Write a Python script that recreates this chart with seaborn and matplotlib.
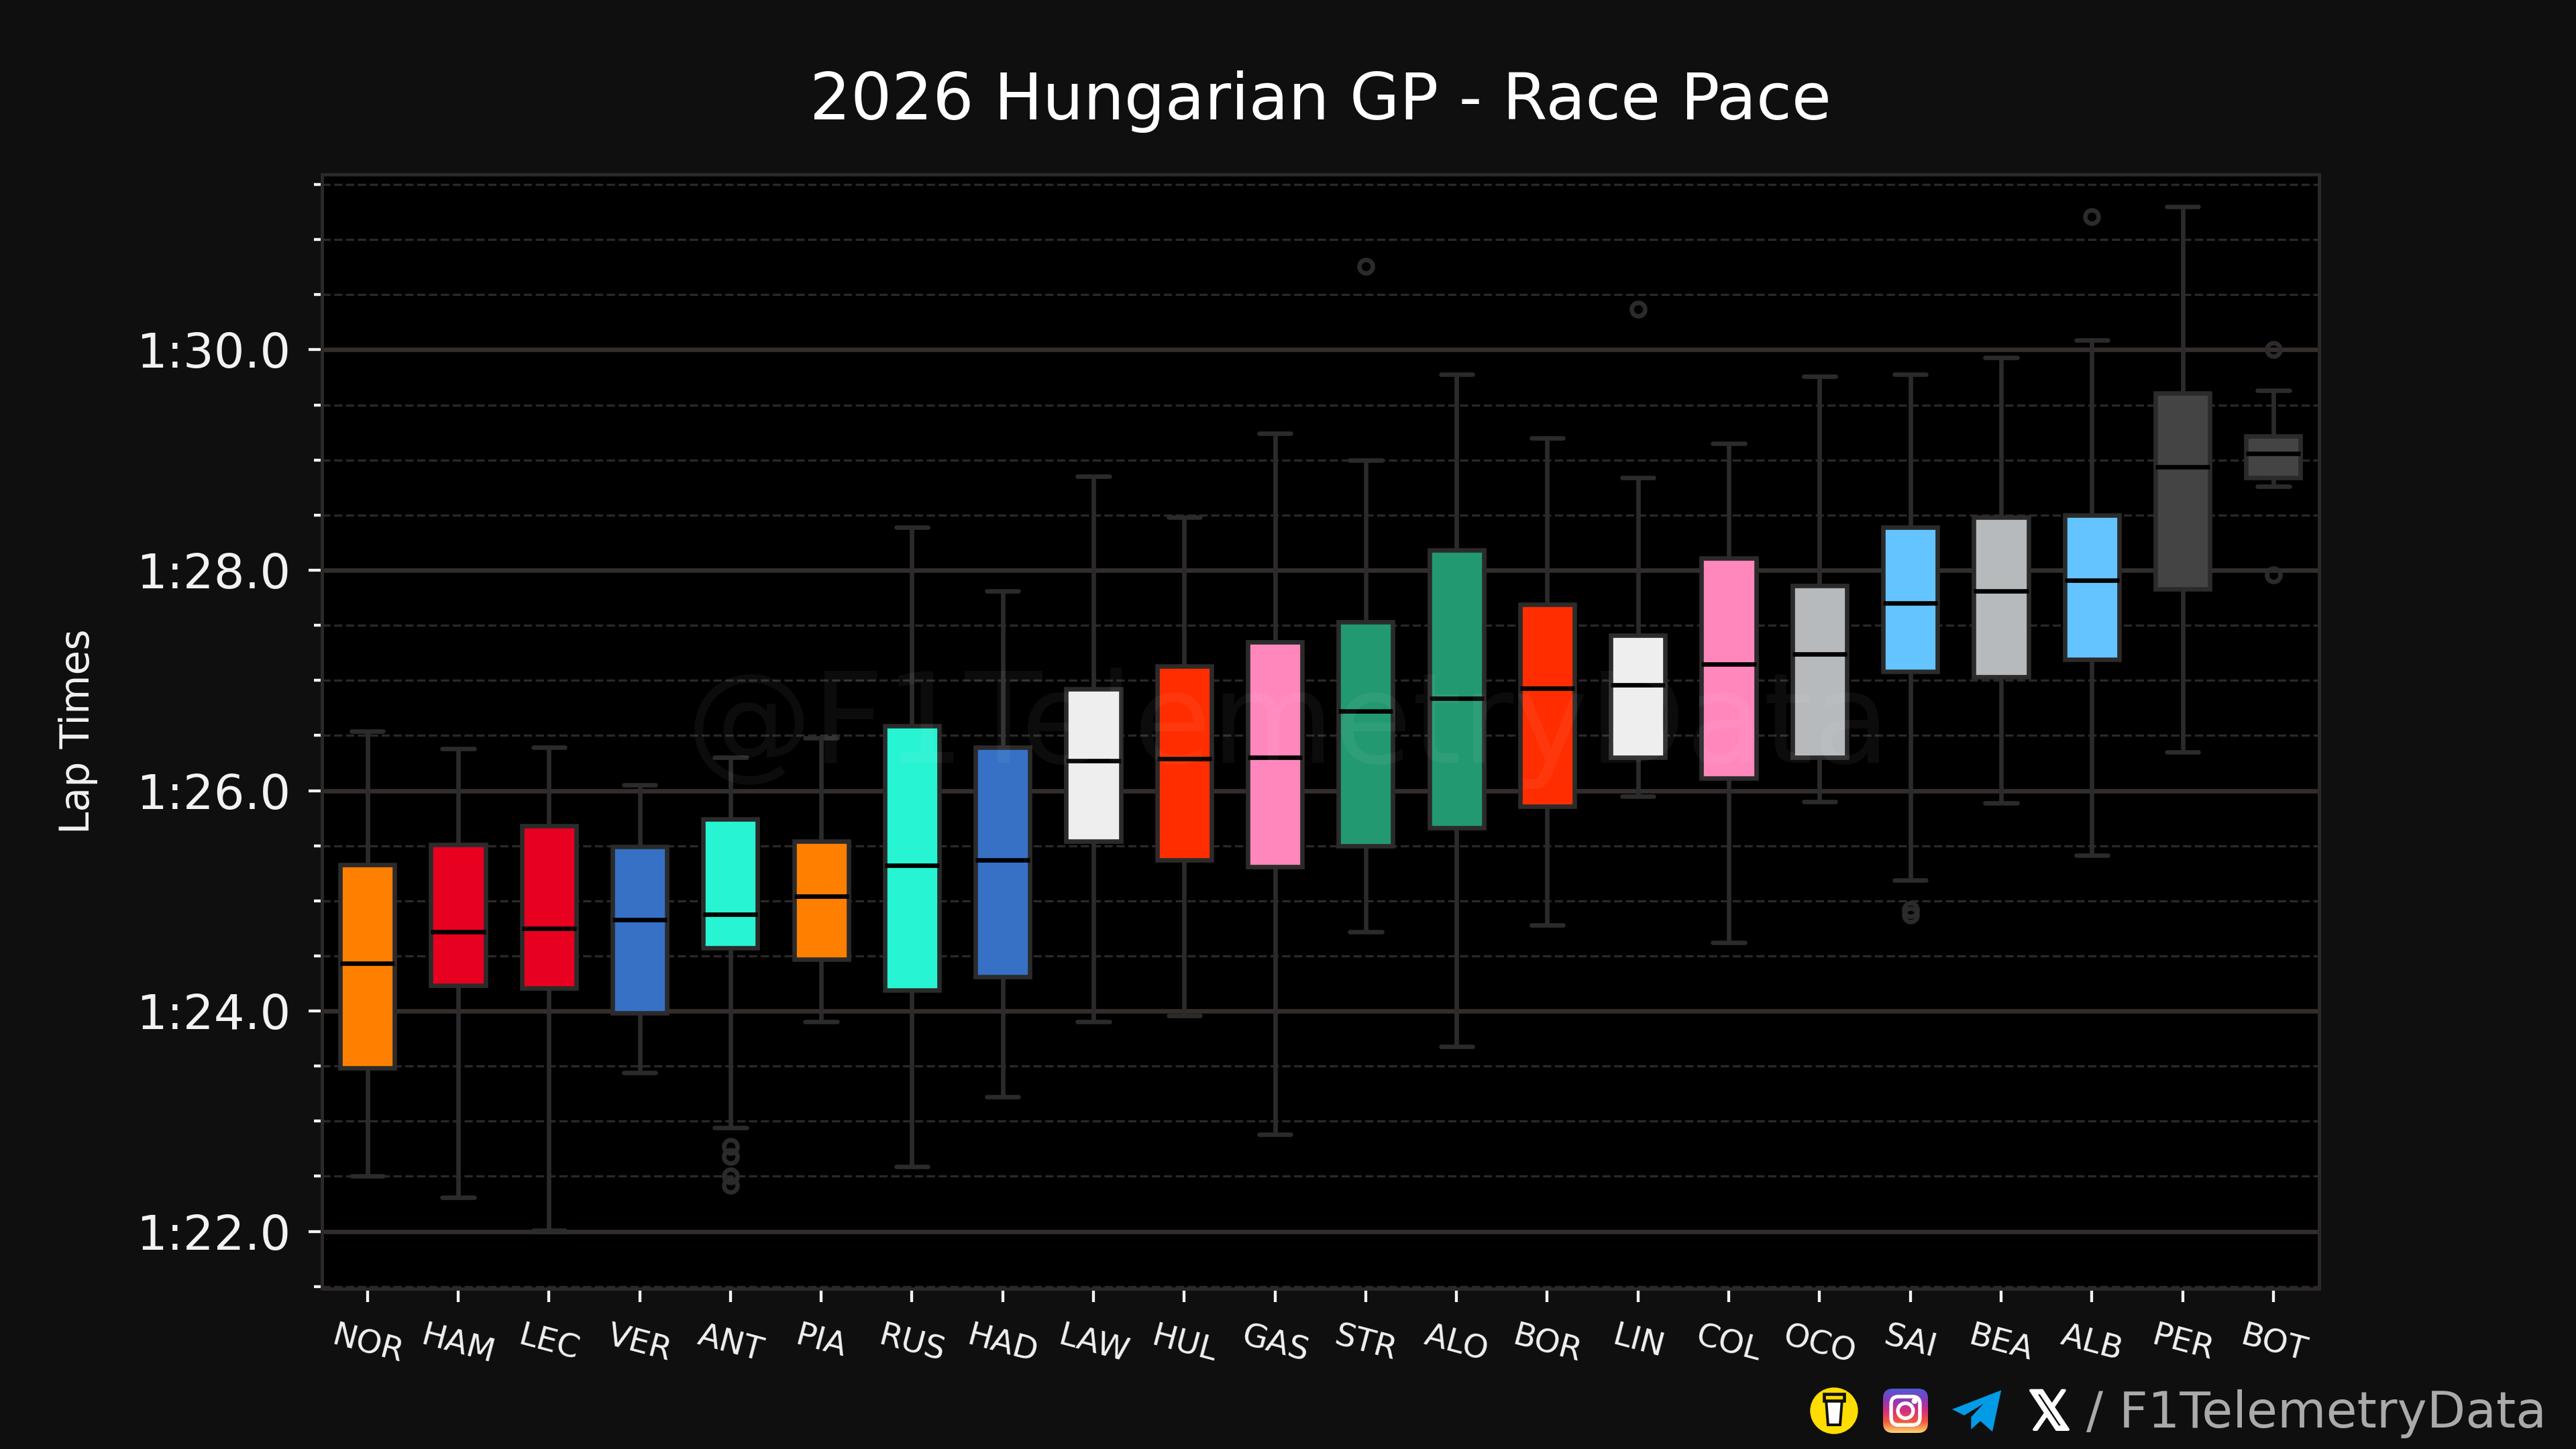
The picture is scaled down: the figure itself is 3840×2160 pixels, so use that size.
"""
Race pace boxplot - 2026 Hungarian GP
"""
import matplotlib.patheffects as pe
import matplotlib.pyplot as plt
import numpy as np
import pandas as pd
import seaborn as sns
from matplotlib.colors import LinearSegmentedColormap
from matplotlib.patches import Ellipse, FancyBboxPatch, Polygon
from matplotlib.ticker import FuncFormatter, MultipleLocator

FIG_W, FIG_H = 3840, 2160
BG = "#0f0f0f"
LINE = "#2b2b2b"
FONT = ["DejaVu Sans"]

drivers = ["NOR", "HAM", "LEC", "VER", "ANT", "PIA", "RUS", "HAD", "LAW", "HUL", "GAS",
           "STR", "ALO", "BOR", "LIN", "COL", "OCO", "SAI", "BEA", "ALB", "PER", "BOT"]
colors = ["#FF8000", "#E80020", "#E80020", "#3671C6", "#27F4D2", "#FF8000", "#27F4D2", "#3671C6",
          "#EEEEEE", "#FF2D00", "#FF87BC", "#229971", "#229971", "#FF2D00", "#EEEEEE", "#FF87BC",
          "#B6BABD", "#64C4FF", "#B6BABD", "#64C4FF", "#444444", "#444444"]

# lap times in seconds
whisker_low = [82.50, 82.31, 82.01, 83.44, 82.94, 83.90, 82.59, 83.22, 83.90, 83.96, 82.88,
               84.72, 83.68, 84.78, 85.95, 84.62, 85.90, 85.19, 85.89, 85.41, 86.35, 88.76]
q1 = [83.48, 84.23, 84.21, 83.98, 84.57, 84.47, 84.19, 84.31, 85.54, 85.37, 85.31,
      85.50, 85.66, 85.86, 86.30, 86.11, 86.30, 87.08, 87.03, 87.19, 87.83, 88.84]
median = [84.43, 84.72, 84.75, 84.83, 84.88, 85.04, 85.32, 85.37, 86.27, 86.29, 86.30,
          86.72, 86.84, 86.93, 86.96, 87.15, 87.24, 87.70, 87.81, 87.91, 88.94, 89.06]
q3 = [85.33, 85.51, 85.68, 85.49, 85.74, 85.54, 86.59, 86.39, 86.92, 87.13, 87.35,
      87.53, 88.18, 87.69, 87.41, 88.11, 87.86, 88.39, 88.48, 88.50, 89.61, 89.22]
whisker_high = [86.54, 86.38, 86.39, 86.05, 86.30, 86.48, 88.39, 87.81, 88.85, 88.48, 89.24,
                89.00, 89.78, 89.20, 88.84, 89.15, 89.76, 89.78, 89.93, 90.09, 91.30, 89.63]
outliers = {
    "ANT": [82.77, 82.68, 82.50, 82.42],
    "STR": [90.76],
    "LIN": [90.37],
    "SAI": [84.92, 84.87],
    "ALB": [91.21],
    "BOT": [90.00, 87.96],
}


def build_laps() -> pd.DataFrame:
    """Long table whose box statistics land on the values read above."""
    rows = []
    for i, drv in enumerate(drivers):
        # the repeats give the quartiles enough weight to sit exactly on the read values
        laps = [whisker_low[i], whisker_high[i]] + [q1[i]] * 8 + [median[i]] * 8 + [q3[i]] * 8
        laps += outliers.get(drv, [])
        rows += [(drv, t) for t in laps]
    return pd.DataFrame(rows, columns=["Driver", "LapTime"])


def fmt_lap(val, _pos):
    return f"{int(val // 60)}:{val % 60:04.1f}"


def px(x, y):
    """Pixel position in the picture to figure fraction."""
    return x / FIG_W, 1 - y / FIG_H


def draw_socials(fig):
    """Icons and handle in the bottom right corner."""
    tr = fig.transFigure

    # coffee cup
    x, y = px(2734, 2103)
    fig.add_artist(Ellipse((x, y), 68 / FIG_W, 66 / FIG_H, color="#FFDD00", transform=tr))
    cup = [px(2722, 2086), px(2746, 2086), px(2743, 2124), px(2725, 2124)]
    fig.add_artist(Polygon(cup, closed=True, facecolor="white", edgecolor="#111111", lw=1.2, transform=tr))
    top = [px(2719, 2078), px(2749, 2078), px(2749, 2088), px(2719, 2088)]
    fig.add_artist(Polygon(top, closed=True, facecolor="#FFDD00", edgecolor="#111111", lw=1.4, transform=tr))

    # instagram gradient square
    ig_ax = fig.add_axes([2807 / FIG_W, 1 - 2136 / FIG_H, 67 / FIG_W, 66 / FIG_H])
    ig_ax.axis("off")
    cmap = LinearSegmentedColormap.from_list("ig", ["#FCD471", "#F0593B", "#D62E7E", "#8A3AB9", "#4F5BD5"])
    grad = np.linspace(0, 1, 64).reshape(-1, 1)
    im = ig_ax.imshow(grad, origin="lower", cmap=cmap, aspect="auto", extent=(0, 1, 0, 1))
    clip = FancyBboxPatch((0.14, 0.14), 0.72, 0.72, boxstyle="round,pad=0.14,rounding_size=0.22",
                          transform=ig_ax.transAxes, facecolor="none", edgecolor="none")
    ig_ax.add_patch(clip)
    im.set_clip_path(clip)
    ig_ax.add_patch(FancyBboxPatch((0.18, 0.18), 0.64, 0.64, boxstyle="round,pad=0,rounding_size=0.16",
                                   transform=ig_ax.transAxes, facecolor="none", edgecolor="white", lw=1.6))
    ig_ax.add_patch(Ellipse((0.5, 0.5), 0.34, 0.34, transform=ig_ax.transAxes,
                            facecolor="none", edgecolor="white", lw=1.6))
    ig_ax.add_patch(Ellipse((0.7, 0.72), 0.08, 0.08, transform=ig_ax.transAxes, color="white"))

    # telegram plane
    plane = [px(2981, 2075), px(2914, 2101), px(2928, 2108), px(2966, 2085), px(2940, 2113),
             px(2940, 2127), px(2952, 2116), px(2969, 2131)]
    fig.add_artist(Polygon(plane, closed=True, color="#039BE5", transform=tr))

    # x logo and handle
    x, y = px(3055, 2131)
    logo = fig.text(x, y, "\U0001D54F", color="white", fontsize=24, ha="center", va="baseline", family=FONT)
    logo.set_path_effects([pe.withStroke(linewidth=1.2, foreground="white")])
    x, y = px(3796, 2128)
    fig.text(x, y, "/ F1TelemetryData", color="#aaaaaa", fontsize=22.4, ha="right", va="baseline", family=FONT)


def main():
    sns.set_theme(style="dark")
    plt.rcParams["font.family"] = FONT

    laps = build_laps()

    fig = plt.figure(figsize=(16, 9), dpi=240, facecolor=BG)
    ax = fig.add_axes([480 / FIG_W, 1 - 1921 / FIG_H, (3456.5 - 480) / FIG_W, (1921 - 259.5) / FIG_H])
    ax.set_facecolor("#000000")

    sns.boxplot(
        data=laps, x="Driver", y="LapTime", hue="Driver", order=drivers, hue_order=drivers,
        palette=dict(zip(drivers, colors)), legend=False, width=0.6, whis=1.52, saturation=1,
        linecolor=LINE, linewidth=2, fliersize=6, capwidths=0.35, ax=ax,
        medianprops=dict(color="black", linewidth=2),
        flierprops=dict(marker="o", markerfacecolor="none", markeredgecolor=LINE, markeredgewidth=2),
    )

    ax.set_xlim(-0.5, 21.5)
    ax.set_ylim(81.48, 91.595)
    ax.yaxis.set_major_locator(MultipleLocator(2))
    ax.yaxis.set_minor_locator(MultipleLocator(0.5))
    ax.yaxis.set_major_formatter(FuncFormatter(fmt_lap))

    ax.set_axisbelow(True)
    ax.grid(False)
    ax.grid(True, axis="y", which="major", color="#332e2b", linewidth=2, linestyle="-")
    ax.grid(True, axis="y", which="minor", color="#2c2827", linewidth=1, linestyle="--")

    for spine in ax.spines.values():
        spine.set_color("#2b2827")
        spine.set_linewidth(1.5)

    ax.tick_params(axis="y", which="major", length=6, width=1.3, color="#f2f2f2",
                   labelcolor="#f2f2f2", labelsize=21.6, pad=8, left=True)
    ax.tick_params(axis="y", which="minor", length=3.5, width=1.3, color="#f2f2f2", left=True)
    ax.tick_params(axis="x", which="major", length=6, width=1.3, color="#f2f2f2",
                   labelcolor="#f2f2f2", labelsize=14.5, pad=8, bottom=True)
    plt.setp(ax.get_xticklabels(), rotation=-15, ha="center", rotation_mode="default")

    ax.set_xlabel("")
    ax.set_ylabel("")
    x, y = px(116, 1090)
    fig.text(x, y, "Lap Times", color="#f2f2f2", fontsize=18, rotation=90, ha="center", va="center")

    x, y = px(1968, 152)
    fig.text(x, y, "2026 Hungarian GP - Race Pace", color="white", fontsize=28.8, ha="center", va="center")

    # watermark sits on top of the boxes
    x, y = px(1921, 1085)
    fig.text(x, y, "@F1TelemetryData", color="white", alpha=0.05, fontsize=56.5,
             ha="center", va="center", zorder=10)

    draw_socials(fig)

    fig.savefig("out.png", dpi=240, facecolor=BG)
    plt.close(fig)


if __name__ == "__main__":
    main()
